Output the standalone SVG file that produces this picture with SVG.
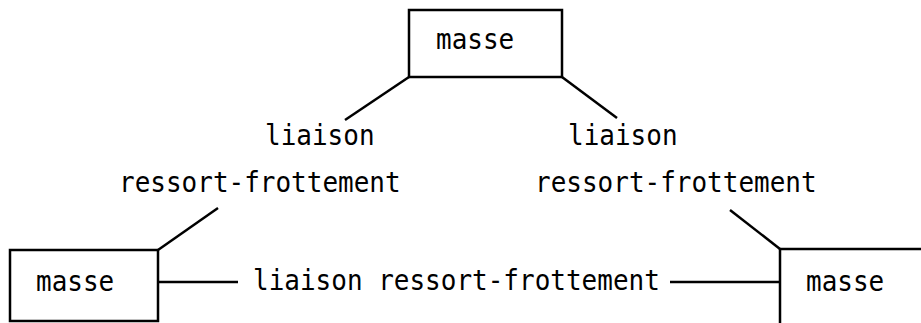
<svg xmlns="http://www.w3.org/2000/svg" width="921" height="323" viewBox="0 0 921 323">
<style>
.box{fill:none;stroke:#000;stroke-width:2.5}
.ln{fill:none;stroke:#000;stroke-width:2.5}
text{font-family:"DejaVu Sans Mono","Liberation Mono",monospace;font-size:26px;fill:#000}
</style>
<rect width="921" height="323" fill="#fff"/>
<g id="masse-top">
<rect class="box" x="409" y="10" width="153" height="67"/>
<text transform="translate(436,49) scale(1,1.12)">masse</text>
</g>
<g id="masse-left">
<path class="box" d="M158,250 H10 V321 H158 Z"/>
<text transform="translate(36,291) scale(1,1.12)">masse</text>
</g>
<g id="masse-right">
<path class="box" d="M921,249 H780 V323"/>
<text transform="translate(806,291) scale(1,1.12)">masse</text>
</g>
<g id="connectors">
<line class="ln" x1="409" y1="77" x2="345" y2="120"/>
<line class="ln" x1="218" y1="208" x2="158" y2="250"/>
<line class="ln" x1="562" y1="77" x2="617" y2="118"/>
<line class="ln" x1="730" y1="210" x2="780" y2="249"/>
<line class="ln" x1="158" y1="282" x2="238" y2="282"/>
<line class="ln" x1="670" y1="282" x2="780" y2="282"/>
</g>
<g id="labels">
<text transform="translate(265,145) scale(1,1.12)">liaison</text>
<text transform="translate(119,192) scale(1,1.12)">ressort-frottement</text>
<text transform="translate(568,145) scale(1,1.12)">liaison</text>
<text transform="translate(535,192) scale(1,1.12)">ressort-frottement</text>
<text transform="translate(253,290) scale(1,1.12)">liaison ressort-frottement</text>
</g>
</svg>
